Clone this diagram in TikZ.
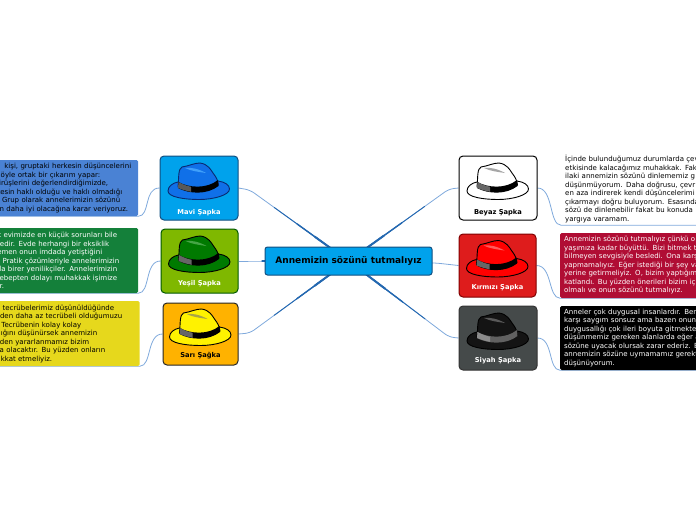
\documentclass[tikz,border=0pt]{standalone}
\usepackage{fontspec}
\setmainfont{DejaVu Sans}
\usetikzlibrary{positioning, calc, backgrounds}
\definecolor{twigblue}{HTML}{7FA9DC}
\definecolor{boughblue}{HTML}{2468B0}
\definecolor{mainfill}{HTML}{00A2EC}
\definecolor{mainline}{HTML}{124E80}
\definecolor{greenfill}{HTML}{7FB800}
\definecolor{orangefill}{HTML}{FFB200}
\definecolor{redfill}{HTML}{DE1C1C}
\definecolor{grayfill}{HTML}{454A4A}
\definecolor{bluenote}{HTML}{4A82D4}
\definecolor{greennote}{HTML}{14803A}
\definecolor{yellownote}{HTML}{E6D81C}
\definecolor{rednote}{HTML}{B00D34}
\definecolor{bluehat}{HTML}{1070E8}
\definecolor{blueshine}{HTML}{40A0FA}
\definecolor{blueedge}{HTML}{0A2A70}
\definecolor{greenhat}{HTML}{007A00}
\definecolor{greenshine}{HTML}{46A546}
\definecolor{yellowshine}{HTML}{AAA546}
\definecolor{redshine}{HTML}{FF5A5A}
\tikzset{
    mainbox/.style={
        rectangle,
        draw=mainline,
        line width=1pt,
        rounded corners=2.5pt,
        minimum width=167pt,
        minimum height=28pt,
        fill=mainfill,
        font=\fontsize{9}{10}\selectfont\bfseries
    },
    hatbox/.style={
        rectangle,
        line width=1pt,
        rounded corners=4pt,
        minimum width=77pt,
        minimum height=63pt
    },
    hatlabel/.style={
        inner sep=0pt,
        font=\fontsize{6.7}{8}\selectfont\bfseries
    },
    notebox/.style={
        rectangle,
        rounded corners=1.5pt,
        anchor=west,
        align=left,
        inner ysep=0pt,
        font=\fontsize{7}{8.5}\selectfont
    },
    leftnote/.style={
        notebox,
        inner xsep=4pt,
        text width=134pt
    },
    rightnote/.style={
        notebox,
        inner xsep=4pt,
        text width=170pt
    },
    twig/.style={
        draw=twigblue,
        line width=0.8pt
    },
    bough/.style={
        draw=boughblue,
        line cap=round
    }
}
% line of a cut-off note, ending at a given x
\newcommand{\cutline}[2]{\makebox[#1pt][r]{#2}}
% hat: node, body, outline, shine, band, band patch
\newcommand{\drawhat}[6]{
\begin{scope}[shift={($(#1.center)+(0,-5)$)}]
\draw[fill=#2, draw=#3, line width=0.9pt] (-31,8) .. controls (-31,3) and (-26,0) .. (-21,-1) -- (19,-2) .. controls (26,-1) and (30.5,2) .. (30.5,6) .. controls (30.5,12) and (15,16.5) .. (0,16.5) .. controls (-15,16.5) and (-31,14) .. (-31,8) -- cycle;
\draw[fill=#2, draw=#3, line width=0.9pt] (-21,4) .. controls (-20,-6) and (-21,-14) .. (-17,-16) .. controls (-10,-17) and (-5,-20) .. (1,-20) .. controls (9,-19) and (12,-13) .. (14,-10) .. controls (17,-6) and (19,-3) .. (19.5,2) .. controls (8,11) and (-10,10) .. (-21,4) -- cycle;
\fill[#4] (-14,-15) .. controls (-8,-16) and (0,-14) .. (7,-10) .. controls (0,-11) and (-8,-12) .. (-14,-15) -- cycle;
\fill[#5] (-20.5,-1) .. controls (-10,5) and (8,6) .. (19,-3) -- (19.5,3) .. controls (8,12) and (-10,11) .. (-21,5) -- cycle;
\fill[#6] (-20.5,-1) .. controls (-16,1.5) and (-12,3) .. (-8,3.7) -- (-8,8.8) .. controls (-12,8) and (-16,7) .. (-21,5) -- cycle;
\end{scope}
}

\begin{document}
\begin{tikzpicture}[x=1pt, y=-1pt]

\useasboundingbox (0,0) rectangle (696,520);
\clip (0,0) rectangle (696,520);

% Central topic
\node[mainbox] (main) at (348.5,261) {Annemizin sözünü tutmalıyız};

% Hat boxes
\node[hatbox, draw=mainline, fill=mainfill, minimum width=78pt, minimum height=64pt] (mavi) at (199,188) {};
\node[hatbox, draw=green!35!black, fill=greenfill, minimum height=64pt] (yesil) at (199.5,261) {};
\node[hatbox, draw=black!85, fill=orangefill, minimum width=75pt, minimum height=62pt] (sari) at (200.5,334) {};
\node[hatbox, draw=black, fill=white, minimum width=78pt, minimum height=64pt] (beyaz) at (498,188) {};
\node[hatbox, draw=red!50!black, fill=redfill] (kirmizi) at (497.5,265.5) {};
\node[hatbox, draw=black!80, fill=grayfill, minimum width=78pt, minimum height=64pt] (siyah) at (498,338) {};

\drawhat{mavi}{bluehat}{blueedge}{blueshine}{black}{black!65}
\drawhat{yesil}{greenhat}{black}{greenshine}{black}{black!60}
\drawhat{sari}{yellow}{black}{yellowshine}{black}{black!60}
\drawhat{beyaz}{white}{black}{black!35}{black}{black!60}
\drawhat{kirmizi}{red}{black}{redshine}{black}{black!60}
\drawhat{siyah}{black!92}{black}{black!65}{black!62}{black!45}

% Hat labels
\node[hatlabel, text=white, above=4.5pt of mavi.south] (maviLabel) {Mavi Şapka};
\node[hatlabel, text=white, above=6.5pt of yesil.south] (yesilLabel) {Yeşil Şapka};
\node[hatlabel, text=black, above=6pt of sari.south] (sariLabel) {Sarı Şağka};
\node[hatlabel, text=black, above=4.5pt of beyaz.south] (beyazLabel) {Beyaz Şapka};
\node[hatlabel, text=white, above=6.5pt of kirmizi.south] (kirmiziLabel) {Kırmızı Şapka};
\node[hatlabel, text=white, above=6.5pt of siyah.south] (siyahLabel) {Siyah Şapka};

% Notes on the left
\node[leftnote, fill=bluenote, text=black, minimum height=56pt] (maviNote) at (-4,188) {\cutline{131}{kişi, gruptaki herkesin düşüncelerini}\\\cutline{100}{öyle ortak bir çıkarım yapar:}\\\cutline{108}{irüşlerini değerlendirdiğimizde,}\\\cutline{122}{kesin haklı olduğu ve haklı olmadığı}\\\cutline{120}{Grup olarak annelerimizin sözünü}\\\cutline{128}{n daha iyi olacağına karar veriyoruz.}};
\node[leftnote, fill=greennote, text=white, minimum height=65pt] (yesilNote) at (-4,260.5) {\cutline{117}{k evimizde en küçük sorunları bile}\\\cutline{109}{kedir. Evde herhangi bir eksiklik}\\\cutline{102}{nemen onun imdada yetiştiğini}\\\cutline{119}{Pratik çözümleriyle annelerimizin}\\\cutline{117}{da birer yenilikçiler. Annelerimizin}\\\cutline{117}{ebepten dolayı muhakkak işimize}\\\cutline{4}{r.}};
\node[leftnote, fill=yellownote, text=black, text width=135.5pt, minimum height=65pt] (sariNote) at (-4,333.5) {\cutline{114}{l tecrübelerimiz düşünüldüğünde}\\\cutline{122}{zden daha az tecrübeli olduğumuzu}\\\cutline{81}{Tecrübenin kolay kolay}\\\cutline{97}{ığını düşünürsek annemizin}\\\cutline{89}{nden yararlanmamız bizim}\\\cutline{105}{za olacaktır. Bu yüzden onların}\\\cutline{52}{kkat etmeliyiz.}};

% Notes on the right
\node[rightnote, text=black, minimum height=72pt] (beyazNote) at (561,189) {İçinde bulunduğumuz durumlarda çev\\etkisinde kalacağımız muhakkak. Fak\\ilaki annemizin sözünü dinlememiz g\\düşünmüyorum. Daha doğrusu, çevr\\en aza indirerek kendi düşüncelerimi\\çıkarmayı doğru buluyorum. Esasında\\sözü de dinlenebilir fakat bu konuda\\yargıya varamam.};
\node[rightnote, fill=rednote, text=white, minimum height=65pt] (kirmiziNote) at (560,265.5) {Annemizin sözünü tutmalıyız çünkü o\\yaşımıza kadar büyüttü. Bizi bitmek t\\bilmeyen sevgisiyle besledi. Ona karş\\yapmamalıyız. Eğer istediği bir şey va\\yerine getirmeliyiz. O, bizim yaptığım\\katlandı. Bu yüzden önerileri bizim içi\\olmalı ve onun sözünü tutmalıyız.};
\node[rightnote, fill=black, text=white, minimum height=64pt] (siyahNote) at (560,338) {Anneler çok duygusal insanlardır. Ben\\karşı saygım sonsuz ama bazen onun\\duygusallığı çok ileri boyuta gitmekte\\düşünmemiz gereken alanlarda eğer a\\sözüne uyacak olursak zarar ederiz. B\\annemizin sözüne uymamamız gerekt\\düşünüyorum.};

\begin{scope}[on background layer]
% Branches from the central topic
\coordinate (maviBend) at (250,190);
\coordinate (sariBend) at (250,333);
\coordinate (beyazBend) at (449,189);
\coordinate (siyahBend) at (449,337);
\coordinate (yesilBend) at (262,261);
\coordinate (kirmiziBend) at (436,263);
\foreach \hatname in {mavi, sari, yesil}{
    \draw[twig, rounded corners=5pt] (main.center) -- (\hatname Bend) -- (\hatname.east);
}
\foreach \hatname in {beyaz, siyah, kirmizi}{
    \draw[twig, rounded corners=5pt] (main.center) -- (\hatname Bend) -- (\hatname.west);
}
\foreach \hatname in {mavi, sari, beyaz, siyah}{
    \draw[bough, line width=0.9pt, shorten >=30pt] (main.center) -- (\hatname Bend);
    \draw[bough, line width=1.4pt, shorten >=58pt] (main.center) -- (\hatname Bend);
    \draw[bough, line width=2pt, shorten >=80pt] (main.center) -- (\hatname Bend);
}
\draw[bough, line width=1.2pt] (main.center) -- (yesilBend);

% Twigs from the hats to their notes
\foreach \hatname in {mavi, yesil, sari}{
    \draw[twig] (\hatname.west) .. controls +(-16,0) and +(12,0) .. (\hatname Note.south east) -- (\hatname Note.south west);
}
\foreach \hatname in {beyaz, kirmizi, siyah}{
    \draw[twig] (\hatname.east) .. controls +(16,0) and +(-12,0) .. (\hatname Note.south west) -- (\hatname Note.south east);
}
\end{scope}

\end{tikzpicture}
\end{document}
